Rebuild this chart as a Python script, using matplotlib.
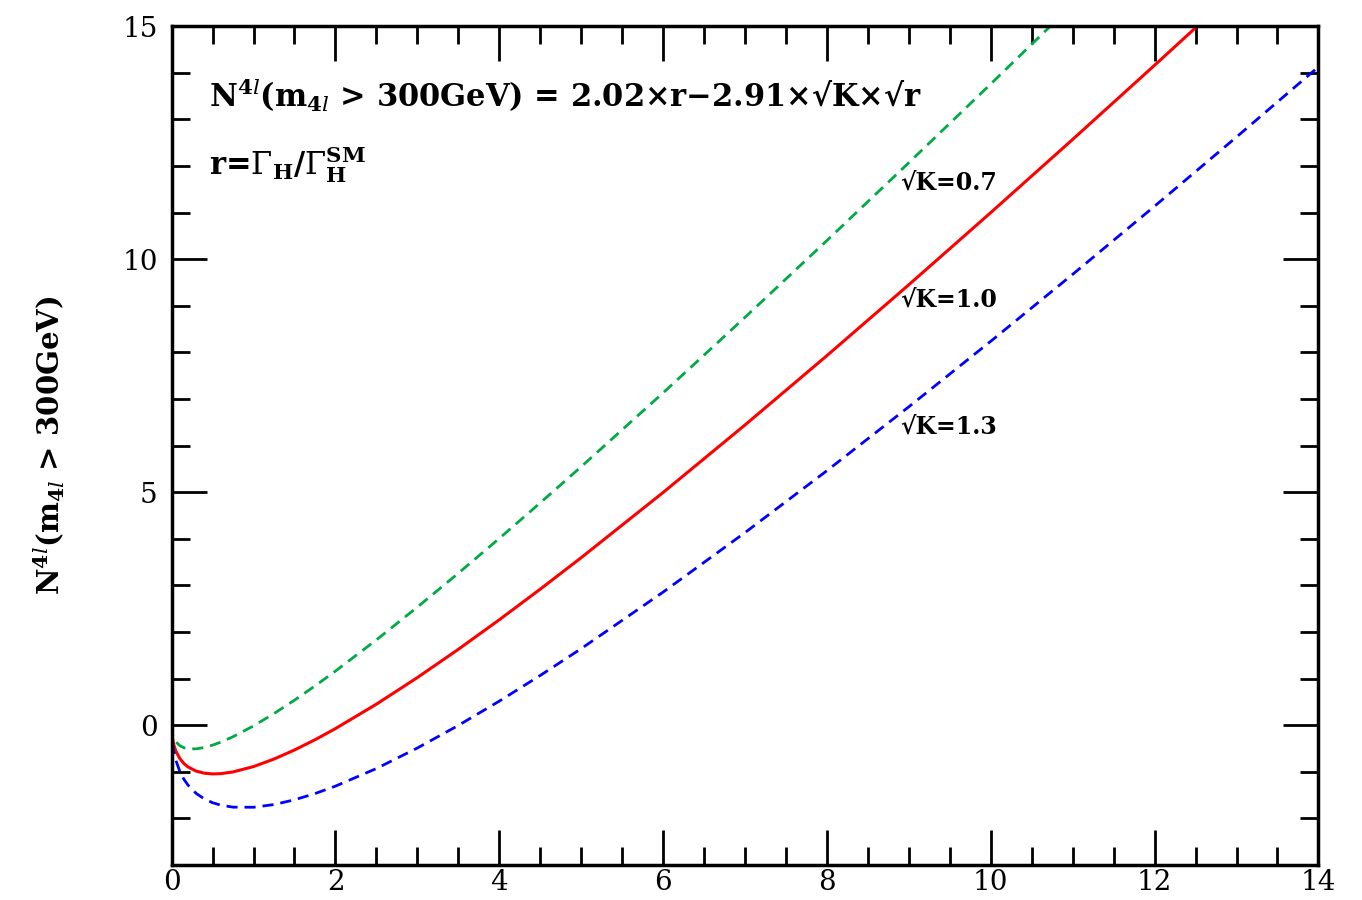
import matplotlib
matplotlib.use('Agg')
import matplotlib.pyplot as plt
from matplotlib.ticker import MultipleLocator

plt.rcParams['font.family'] = ['DejaVu Serif']
plt.rcParams['mathtext.fontset'] = 'dejavuserif'

# r = Gamma_H / Gamma_H^SM
r = [0, 0.005, 0.01, 0.02, 0.03, 0.05, 0.1, 0.15, 0.2, 0.3, 0.4, 0.5, 0.6,
     0.75, 1, 1.25, 1.5, 1.75, 2, 2.5, 3, 3.5, 4, 4.5, 5, 6, 7, 8, 9, 10,
     11, 12, 13, 14]

n_k07 = [0, -0.134, -0.183, -0.248, -0.292, -0.354, -0.442, -0.486, -0.507,
         -0.510, -0.480, -0.430, -0.366, -0.249, -0.017, 0.248, 0.535, 0.840,
         1.159, 1.829, 2.532, 3.259, 4.006, 4.769, 5.545, 7.130, 8.751,
         10.399, 12.069, 13.758, 15.464, 17.184, 18.92, 20.66]
n_k10 = [0, -0.196, -0.271, -0.371, -0.443, -0.550, -0.718, -0.824, -0.897,
         -0.988, -1.032, -1.048, -1.042, -1.005, -0.890, -0.729, -0.534,
         -0.315, -0.075, 0.449, 1.020, 1.626, 2.260, 2.917, 3.593, 4.992,
         6.441, 7.929, 9.450, 10.998, 12.569, 14.160, 15.768, 17.39]
n_k13 = [0, -0.257, -0.358, -0.495, -0.595, -0.745, -0.994, -1.162, -1.288,
         -1.466, -1.585, -1.665, -1.718, -1.761, -1.763, -1.705, -1.603,
         -1.470, -1.310, -0.932, -0.492, -0.007, 0.514, 1.065, 1.641, 2.854,
         4.131, 5.460, 6.831, 8.237, 9.673, 11.135, 12.620, 14.125]

labels = ['√K=0.7', '√K=1.0', '√K=1.3']
label_pos = [(8.9, 11.63), (8.9, 9.12), (8.9, 6.40)]

fig = plt.figure(figsize=(13.62, 9), dpi=100)
ax = fig.add_axes([0.126, 0.039, 0.842, 0.932])

ax.plot(r, n_k07, color='#00aa44', lw=2, ls=(0, (4, 2.5)))
ax.plot(r, n_k10, color='#ff0000', lw=2.2, ls='-')
ax.plot(r, n_k13, color='#0000ff', lw=2, ls=(0, (4, 2.5)))

ax.set_xlim(0, 14)
ax.set_ylim(-3, 15)
ax.xaxis.set_major_locator(MultipleLocator(2))
ax.xaxis.set_minor_locator(MultipleLocator(0.5))
ax.yaxis.set_major_locator(MultipleLocator(5))
ax.yaxis.set_minor_locator(MultipleLocator(1))
ax.tick_params(which='both', direction='in', top=True, right=True,
               width=2, labelsize=20)
ax.tick_params(axis='x', which='major', pad=3)
ax.tick_params(axis='y', which='major', pad=10)
ax.tick_params(which='major', length=25)
ax.tick_params(which='minor', length=13)
for s in ax.spines.values():
    s.set_linewidth(2.5)

ax.set_ylabel(r'N$^{\mathbf{4}\mathit{l}}$(m$_{\mathbf{4}\mathit{l}}$ > 300GeV)',
              fontsize=21, fontweight='bold', labelpad=40)

ax.text(0.46, 13.52,
        r'N$^{\mathbf{4}\mathit{l}}$(m$_{\mathbf{4}\mathit{l}}$ > 300GeV) = 2.02×r−2.91×√K×√r',
        fontsize=22, fontweight='bold', va='center', ha='left')
ax.text(0.46, 12.02, r'r=$\Gamma_{\mathbf{H}}$/$\Gamma_{\mathbf{H}}^{\mathbf{SM}}$',
        fontsize=22, fontweight='bold', va='center', ha='left')

for txt, (x, y) in zip(labels, label_pos):
    ax.text(x, y, txt, fontsize=17, fontweight='bold', va='center', ha='left')

fig.savefig('out.png', dpi=100)
